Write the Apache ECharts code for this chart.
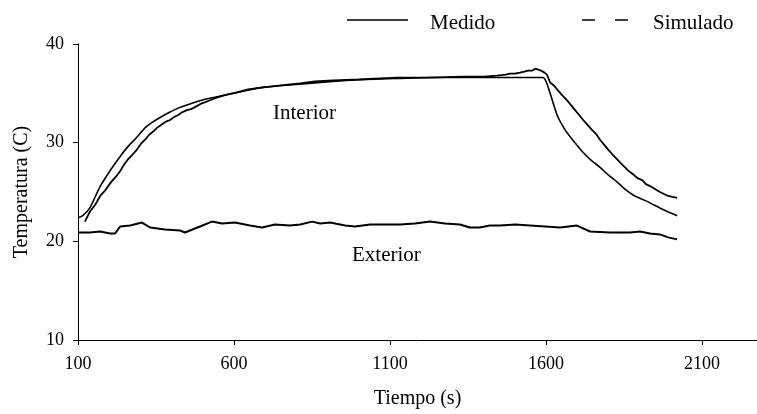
<!DOCTYPE html>
<html>
<head>
<meta charset="utf-8">
<script src="https://cdn.jsdelivr.net/npm/echarts@6/dist/echarts.min.js"></script>
<style>
html,body{margin:0;padding:0;background:#fff;}
#chart{width:757px;height:414px;}
</style>
</head>
<body>
<div id="chart"></div>
<script>
// X tick labels
const xTicks = [100, 600, 1100, 1600, 2100];

// Legend entries
const legendNames = ['Medido', 'Simulado'];

// Medido - Interior (noisy measured)
const medIntTime = [122, 138, 155, 171, 188, 206, 220, 235, 248, 260, 275, 289, 302, 315, 328, 340, 353, 366, 380, 395, 408, 421, 435, 449, 462, 475, 491, 507, 523, 539, 568, 597, 645, 693, 750, 811, 860, 917, 1000, 1122, 1230, 1334, 1400, 1443, 1470, 1485, 1500, 1517, 1530, 1542, 1555, 1565, 1575, 1584, 1595, 1603, 1613, 1625, 1638, 1652, 1667, 1680, 1693, 1706, 1719, 1733, 1747, 1760, 1773, 1786, 1799, 1813, 1828, 1840, 1853, 1866, 1879, 1893, 1908, 1920, 1933, 1949, 1965, 1978, 1991, 2005, 2020];
const medIntTemp = [22.0, 23.0, 23.7, 24.6, 25.2, 26.0, 26.5, 27.1, 27.8, 28.3, 28.8, 29.3, 29.9, 30.3, 30.8, 31.1, 31.5, 31.8, 32.1, 32.3, 32.6, 32.8, 33.1, 33.3, 33.4, 33.6, 33.9, 34.1, 34.3, 34.5, 34.8, 35.0, 35.4, 35.6, 35.8, 36.0, 36.2, 36.3, 36.4, 36.6, 36.6, 36.7, 36.7, 36.8, 36.9, 37.0, 37.0, 37.1, 37.2, 37.3, 37.3, 37.5, 37.4, 37.3, 37.1, 36.9, 36.1, 35.8, 35.3, 34.8, 34.3, 33.8, 33.3, 32.8, 32.3, 31.8, 31.3, 30.9, 30.3, 29.8, 29.3, 28.8, 28.3, 27.9, 27.5, 27.1, 26.8, 26.4, 26.2, 25.8, 25.6, 25.3, 25.0, 24.8, 24.6, 24.5, 24.4];

// Medido - Exterior (noisy measured)
const medExtTime = [100, 138, 171, 203, 219, 235, 267, 305, 331, 379, 427, 443, 491, 529, 562, 603, 651, 690, 731, 779, 812, 850, 876, 908, 956, 988, 1036, 1084, 1132, 1180, 1228, 1276, 1324, 1356, 1388, 1420, 1453, 1501, 1549, 1597, 1645, 1699, 1741, 1805, 1869, 1901, 1933, 1965, 1991, 2020];
const medExtTemp = [20.9, 20.9, 21.0, 20.8, 20.8, 21.5, 21.6, 21.9, 21.4, 21.2, 21.1, 20.9, 21.5, 22.0, 21.8, 21.9, 21.6, 21.4, 21.7, 21.6, 21.7, 22.0, 21.8, 21.9, 21.6, 21.5, 21.7, 21.7, 21.7, 21.8, 22.0, 21.8, 21.7, 21.4, 21.4, 21.6, 21.6, 21.7, 21.6, 21.5, 21.4, 21.6, 21.0, 20.9, 20.9, 21.0, 20.8, 20.7, 20.4, 20.2];

// Simulado - Interior (smooth)
const simIntTime = [100, 115, 138, 170, 206, 235, 260, 290, 315, 340, 366, 395, 421, 448, 475, 507, 539, 597, 693, 800, 917, 1020, 1122, 1230, 1334, 1450, 1560, 1590, 1600, 1613, 1625, 1638, 1657, 1677, 1698, 1719, 1745, 1773, 1800, 1828, 1853, 1879, 1906, 1933, 1976, 2020];
const simIntTemp = [22.4, 22.6, 23.4, 25.5, 27.3, 28.6, 29.6, 30.6, 31.5, 32.1, 32.6, 33.1, 33.5, 33.8, 34.1, 34.4, 34.6, 35.0, 35.6, 35.9, 36.2, 36.4, 36.5, 36.6, 36.6, 36.6, 36.6, 36.6, 36.2, 35.0, 33.8, 32.6, 31.5, 30.6, 29.8, 29.0, 28.2, 27.5, 26.7, 26.0, 25.3, 24.7, 24.3, 23.9, 23.2, 22.6];

function pairs(xs, ys) { return xs.map((x, i) => [x, ys[i]]); }

const font = 'Liberation Serif, Times New Roman, serif';
const chart = echarts.init(document.getElementById('chart'));
chart.setOption({
  backgroundColor: '#fff',
  animation: false,
  textStyle: { fontFamily: font, color: '#000' },
  grid: { left: 78, right: 0, top: 44, bottom: 73 },
  xAxis: {
    type: 'value', min: 100, max: 2276,
    name: 'Tiempo (s)', nameLocation: 'middle', nameGap: 49,
    nameTextStyle: { fontFamily: font, fontSize: 20, color: '#000' },
    axisLine: { show: true, onZero: false, lineStyle: { color: '#000', width: 1 } },
    axisTick: { show: true, length: 5, customValues: xTicks, lineStyle: { color: '#000' } },
    axisLabel: { customValues: xTicks, formatter: v => String(v), fontFamily: font, fontSize: 18, color: '#000', margin: 15 },
    splitLine: { show: false }
  },
  yAxis: {
    type: 'value', min: 10, max: 40, interval: 10,
    name: 'Temperatura (C)', nameLocation: 'middle', nameGap: 46,
    nameTextStyle: { fontFamily: font, fontSize: 20, color: '#000' },
    axisLine: { show: true, lineStyle: { color: '#000', width: 1 } },
    axisTick: { show: true, length: 5, lineStyle: { color: '#000' } },
    axisLabel: { fontFamily: font, fontSize: 18, color: '#000', margin: 14 },
    splitLine: { show: false }
  },
  series: [
    { name: legendNames[1], type: 'line', symbol: 'none', data: pairs(simIntTime, simIntTemp),
      smooth: 0.3, lineStyle: { color: '#000', width: 1.6 }, itemStyle: { color: '#000' } },
    { name: legendNames[0], type: 'line', symbol: 'none', data: pairs(medIntTime, medIntTemp),
      lineStyle: { color: '#000', width: 1.8 }, itemStyle: { color: '#000' } },
    { name: legendNames[0], type: 'line', symbol: 'none', data: pairs(medExtTime, medExtTemp),
      lineStyle: { color: '#000', width: 2 }, itemStyle: { color: '#000' } }
  ],
  graphic: [
    { type: 'line', shape: { x1: 347, y1: 20, x2: 408, y2: 20 }, style: { stroke: '#000', lineWidth: 1.5 } },
    { type: 'text', left: 430, top: 13, style: { text: legendNames[0], font: '21px ' + font, fill: '#000' } },
    { type: 'line', shape: { x1: 582, y1: 20, x2: 628, y2: 20 }, style: { stroke: '#000', lineWidth: 1.5, lineDash: [13, 20] } },
    { type: 'text', left: 653, top: 13, style: { text: legendNames[1], font: '21px ' + font, fill: '#000' } },
    { type: 'text', left: 273, top: 103, style: { text: 'Interior', font: '21px ' + font, fill: '#000' } },
    { type: 'text', left: 352, top: 245, style: { text: 'Exterior', font: '21px ' + font, fill: '#000' } }
  ]
});
</script>
</body>
</html>
